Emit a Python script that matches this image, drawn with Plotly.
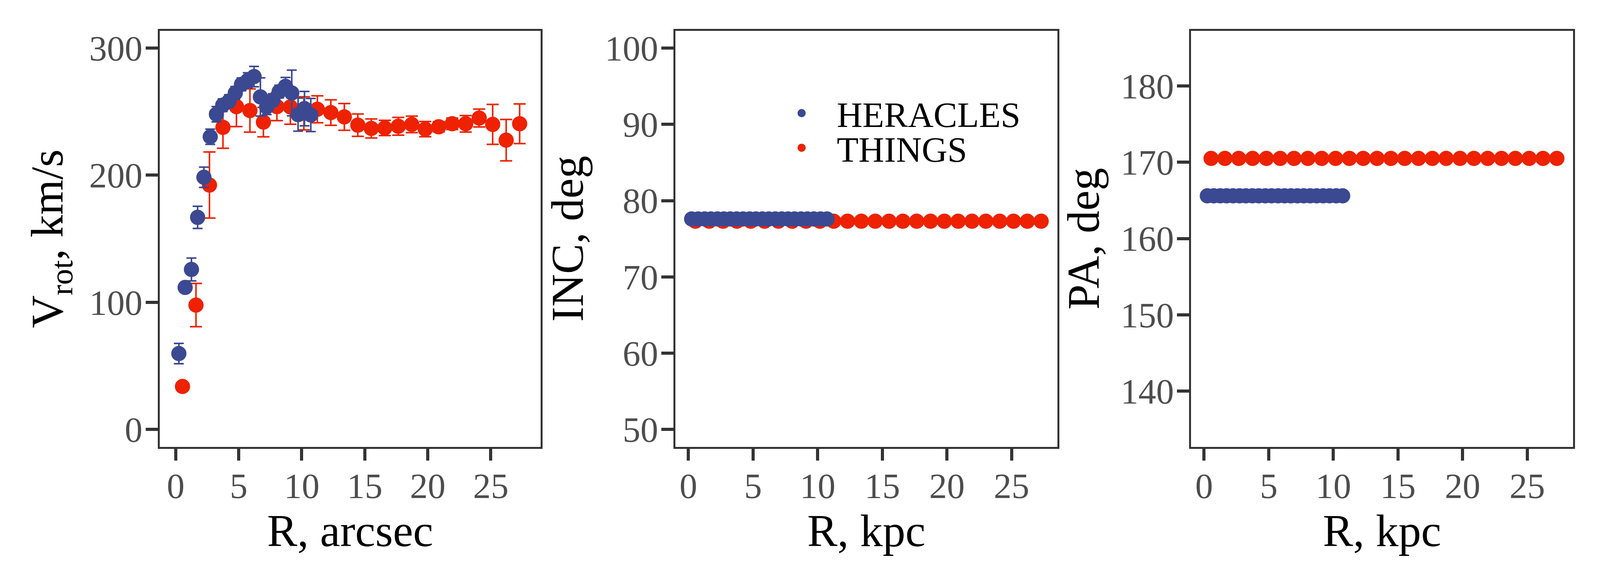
import plotly.graph_objects as go

# ---------------- data ----------------
R_HERACLES = [0.25, 0.75, 1.25, 1.74, 2.24, 2.74, 3.23, 3.73, 4.23, 4.73, 5.22,
              5.72, 6.22, 6.72, 7.22, 7.71, 8.21, 8.71, 9.21, 9.71, 10.22, 10.72]
V_HERACLES = [59.7, 111.7, 125.8, 166.8, 198.3, 230.2, 247.9, 255.0, 258.2, 264.6, 271.4,
              274.5, 277.5, 261.5, 253.6, 259.0, 265.7, 269.8, 264.6, 247.6, 252.3, 247.3]
EV_HERACLES = [8.0, 4.0, 9.0, 8.7, 8.0, 6.0, 6.0, 5.0, 5.0, 5.0, 5.0,
               6.0, 8.0, 15.0, 6.0, 5.0, 5.0, 7.0, 18.0, 13.0, 13.5, 13.0]
INC_HERACLES = [77.6, 77.6, 77.6, 77.6, 77.6, 77.6, 77.6, 77.6, 77.6, 77.6, 77.6,
                77.6, 77.6, 77.6, 77.6, 77.6, 77.6, 77.6, 77.6, 77.6, 77.6, 77.6]
PA_HERACLES = [165.6, 165.6, 165.6, 165.6, 165.6, 165.6, 165.6, 165.6, 165.6, 165.6, 165.6,
               165.6, 165.6, 165.6, 165.6, 165.6, 165.6, 165.6, 165.6, 165.6, 165.6, 165.6]

R_THINGS = [0.54, 1.61, 2.68, 3.75, 4.82, 5.89, 6.96, 8.03, 9.10, 10.17, 11.24, 12.31, 13.38,
            14.45, 15.52, 16.59, 17.66, 18.73, 19.80, 20.87, 21.94, 23.01, 24.08, 25.15, 26.22, 27.29]
V_THINGS = [33.8, 97.8, 192.2, 237.6, 253.9, 250.8, 241.7, 253.9, 253.6, 248.6, 251.8, 249.2, 245.8,
            239.3, 236.7, 237.1, 238.4, 239.9, 236.2, 238.0, 240.4, 240.4, 244.9, 239.9, 227.5, 240.4]
EV_THINGS = [2.0, 17.0, 26.0, 16.5, 15.7, 17.0, 11.6, 11.0, 13.6, 13.0, 10.6, 10.0, 10.5,
             8.8, 7.5, 6.0, 7.0, 6.5, 6.0, 4.0, 4.5, 6.5, 7.0, 15.7, 16.3, 15.6]
INC_THINGS = [77.3, 77.3, 77.3, 77.3, 77.3, 77.3, 77.3, 77.3, 77.3, 77.3, 77.3, 77.3, 77.3,
              77.3, 77.3, 77.3, 77.3, 77.3, 77.3, 77.3, 77.3, 77.3, 77.3, 77.3, 77.3, 77.3]
PA_THINGS = [170.5, 170.5, 170.5, 170.5, 170.5, 170.5, 170.5, 170.5, 170.5, 170.5, 170.5, 170.5, 170.5,
             170.5, 170.5, 170.5, 170.5, 170.5, 170.5, 170.5, 170.5, 170.5, 170.5, 170.5, 170.5, 170.5]

X_TICKS = [0, 5, 10, 15, 20, 25]
Y1_TICKS = [0, 100, 200, 300]
Y2_TICKS = [50, 60, 70, 80, 90, 100]
Y3_TICKS = [140, 150, 160, 170, 180]

# ---------------- style ----------------
BLUE = "#3B4992"
RED = "#EE2200"
FONT = "Liberation Serif"
AX = "#333333"
TICKTXT = "#4D4D4D"

# The visible page area is about 4097 x 1510 CSS px (body margin 8 px);
# lay the figure out in reference pixels and map them onto that area.
RW, RH = 4500, 1500
KX, KY = 4097 / RW, 1510 / RH
W, H = 4089, 1502

def fx(v):
    return (v * KX - 8) / W

def fy(v):
    return 1 - (v * KY - 8) / H

XD1 = [fx(449), fx(1520)]
XD2 = [fx(1899), fx(2973)]
XD3 = [fx(3349), fx(4423)]
YDOM = [fy(1136), fy(78)]

FS_TICK = 91
FS_TITLE = 116
MS = 34     # plus a 5 px outline of the same colour -> ~39 px dots


def mk(color):
    return dict(color=color, size=MS, line=dict(color=color, width=5))


fig = go.Figure()

# Panel 1: rotation curve (THINGS first so HERACLES sits on top)
fig.add_trace(go.Scatter(x=R_THINGS, y=V_THINGS, mode="markers", name="THINGS",
                         marker=mk(RED),
                         error_y=dict(type="data", array=EV_THINGS, color=RED,
                                      thickness=4, width=15.5),
                         xaxis="x", yaxis="y", showlegend=False))
fig.add_trace(go.Scatter(x=R_HERACLES, y=V_HERACLES, mode="markers", name="HERACLES",
                         marker=mk(BLUE),
                         error_y=dict(type="data", array=EV_HERACLES, color=BLUE,
                                      thickness=4, width=12.7),
                         xaxis="x", yaxis="y", showlegend=False))

# Panel 2: inclination
fig.add_trace(go.Scatter(x=R_THINGS, y=INC_THINGS, mode="markers", name="THINGS",
                         marker=mk(RED), xaxis="x2", yaxis="y2",
                         legend="legend2", showlegend=True))
fig.add_trace(go.Scatter(x=R_HERACLES, y=INC_HERACLES, mode="markers", name="HERACLES",
                         marker=mk(BLUE), xaxis="x2", yaxis="y2",
                         legend="legend", showlegend=True))

# Panel 3: position angle
fig.add_trace(go.Scatter(x=R_THINGS, y=PA_THINGS, mode="markers", name="THINGS",
                         marker=mk(RED), xaxis="x3", yaxis="y3", showlegend=False))
fig.add_trace(go.Scatter(x=R_HERACLES, y=PA_HERACLES, mode="markers", name="HERACLES",
                         marker=mk(BLUE), xaxis="x3", yaxis="y3", showlegend=False))

common = dict(showgrid=False, zeroline=False, showline=True, mirror=True,
              linecolor=AX, linewidth=4.5, ticks="outside", ticklen=31, tickwidth=8,
              tickcolor=AX, tickfont=dict(family=FONT, size=FS_TICK, color=TICKTXT))

def xax(dom, rng, title, anchor):
    return dict(common, domain=dom, range=rng, tickvals=X_TICKS, anchor=anchor,
                ticklabelstandoff=-14,
                title=dict(text=title, font=dict(family=FONT, size=FS_TITLE, color="black"),
                           standoff=10))

def yax(rng, ticks, title, anchor, standoff):
    return dict(common, domain=YDOM, range=rng, tickvals=ticks, anchor=anchor,
                ticklabelstandoff=-10,
                title=dict(text=title, font=dict(family=FONT, size=FS_TITLE, color="black"),
                           standoff=standoff))

ITEMW = 170
LEG_X = ((2254 * KX - 8) - (ITEMW + 10) / 2) / W
leg_common = dict(xanchor="left", yanchor="middle", bgcolor="rgba(0,0,0,0)",
                  itemwidth=ITEMW, itemsizing="trace",
                  font=dict(family=FONT, size=FS_TICK, color="black"))

fig.update_layout(
    width=W, height=H,
    margin=dict(l=0, r=0, t=0, b=0, autoexpand=False),
    plot_bgcolor="white", paper_bgcolor="white",
    font=dict(family=FONT),
    xaxis=xax(XD1, [-1.27, 28.95], "R, arcsec", "y"),
    yaxis=yax([-13.6, 313.6], Y1_TICKS, "V<sub>rot</sub>, km/s", "x", 30),
    xaxis2=xax(XD2, [-1.01, 28.54], "R, kpc", "y2"),
    yaxis2=yax([47.71, 102.3], Y2_TICKS, "INC, deg", "x2", 18),
    xaxis3=xax(XD3, [-1.01, 28.54], "R, kpc", "y3"),
    yaxis3=yax([132.70, 187.25], Y3_TICKS, "PA, deg", "x3", 18),
    legend=dict(leg_common, x=LEG_X, y=fy(288)),
    legend2=dict(leg_common, x=LEG_X, y=fy(376)),
)

fig.write_html("out.html")
